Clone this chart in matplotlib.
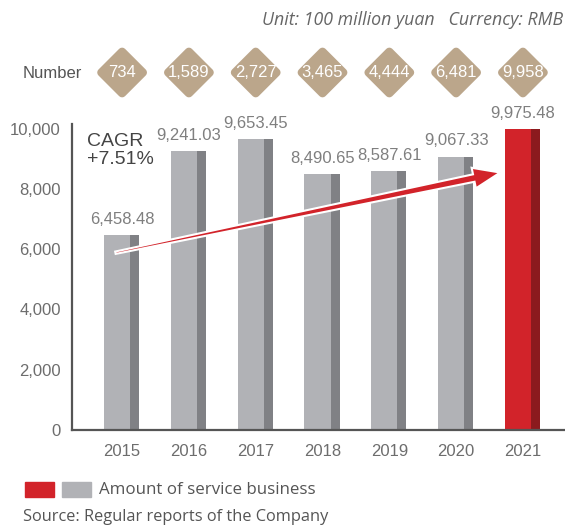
import numpy as np
import matplotlib.pyplot as plt
from matplotlib.patches import Polygon, Rectangle

years = ['2015', '2016', '2017', '2018', '2019', '2020', '2021']
amount = [6458.48, 9241.03, 9653.45, 8490.65, 8587.61, 9067.33, 9975.48]
number = [734, 1589, 2727, 3465, 4444, 6481, 9958]
yticks = [0, 2000, 4000, 6000, 8000, 10000]
cagr = '+7.51%'

light = '#b1b2b6'
dark = '#808185'
red = '#d2232a'
dred = '#8b1a1e'
gold = '#bba68b'
txt = '#7f7f7f'

W, H = 565, 525
fig = plt.figure(figsize=(W / 100, H / 100), dpi=100)
plt.rcParams['font.family'] = ['Liberation Sans', 'DejaVu Sans']

# main axes: left spine at x=72, bottom at y=430
ax = fig.add_axes([72 / W, (H - 430) / H, (W - 72) / W, (430 - 124) / H])
x = list(range(len(years)))
last = len(years) - 1
for i, v in enumerate(amount):
    c1, c2 = (red, dred) if i == last else (light, dark)
    ax.bar(i - 0.27, v, width=0.39, align='edge', color=c1, linewidth=0)
    ax.bar(i + 0.12, v, width=0.135, align='edge', color=c2, linewidth=0)
    ax.text(i, v + 280, f'{v:,.2f}', ha='center', va='bottom', fontsize=12, color=txt)

ax.set_xlim(-0.75, 6.63)
ax.set_ylim(0, 10150)
ax.set_xticks(x)
ax.set_xticklabels(years)
ax.set_yticks(yticks)
ax.set_yticklabels([f'{t:,}' for t in yticks])
ax.tick_params(length=0, labelsize=12, labelcolor='#6d6d6d')
ax.tick_params(axis='x', pad=10)
ax.tick_params(axis='y', pad=8)
for s in ['top', 'right']:
    ax.spines[s].set_visible(False)
for s in ['left', 'bottom']:
    ax.spines[s].set_color('#555555')
    ax.spines[s].set_linewidth(1.6)

# CAGR trend arrow, tapered, built in pixel space from data end points
p0 = ax.transData.transform((-0.1, 5880))
p1 = ax.transData.transform((5.66, 8540))
u = (p1 - p0) / np.hypot(*(p1 - p0))
nrm = np.array([-u[1], u[0]])
L = np.hypot(*(p1 - p0))
hl = 27
base = p0 + u * (L - hl)
pts = [p0 + nrm * 1.2, base + nrm * 3.8, base + nrm * 10.5, p1,
       base - nrm * 10.5, base - nrm * 3.8, p0 - nrm * 1.2]
arrow = Polygon(pts, closed=True, transform=None, facecolor=red,
                edgecolor='white', linewidth=1.5, joinstyle='miter', zorder=5)
fig.add_artist(arrow)
ax.text(-0.53, 9850, 'CAGR\n' + cagr, ha='left', va='top', fontsize=14,
        color='#444444', linespacing=1.05)

# number row of diamonds
axn = fig.add_axes([72 / W, (H - 102.5) / H, (W - 72) / W, 60 / H])
px = (W - 72) / (6.63 + 0.75)
half = 30 / px
axn.set_xlim(-0.75, 6.63)
axn.set_ylim(-half, half)
axn.axis('off')
r = 0.31
for i, n in enumerate(number):
    d = Polygon([(i - r, 0), (i, r), (i + r, 0), (i, -r)], closed=True,
                facecolor=gold, edgecolor=gold, linewidth=6, joinstyle='round')
    axn.add_patch(d)
    axn.text(i, 0, f'{n:,}', ha='center', va='center', fontsize=12, color='white')
fig.text(23 / W, 1 - 73 / H, 'Number', ha='left', va='center', fontsize=12, color='#555555')

sans2 = ['Open Sans', 'DejaVu Sans']
fig.text(563 / W, 1 - 20 / H, 'Unit: 100 million yuan   Currency: RMB', ha='right',
         va='center', fontsize=12.8, style='italic', color='#666666', family=sans2)

# legend
fig.patches.append(Rectangle((25 / W, 1 - 497 / H), 29 / W, 15 / H,
                             transform=fig.transFigure, color=red))
fig.patches.append(Rectangle((62 / W, 1 - 497 / H), 29 / W, 15 / H,
                             transform=fig.transFigure, color=light))
fig.text(99 / W, 1 - 490 / H, 'Amount of service business', ha='left', va='center',
         fontsize=12.2, color='#555555', family=sans2)
fig.text(23 / W, 1 - 517 / H, 'Source: Regular reports of the Company', ha='left',
         va='center', fontsize=11.8, color='#555555', family=sans2)

fig.savefig('out.png', dpi=100)
